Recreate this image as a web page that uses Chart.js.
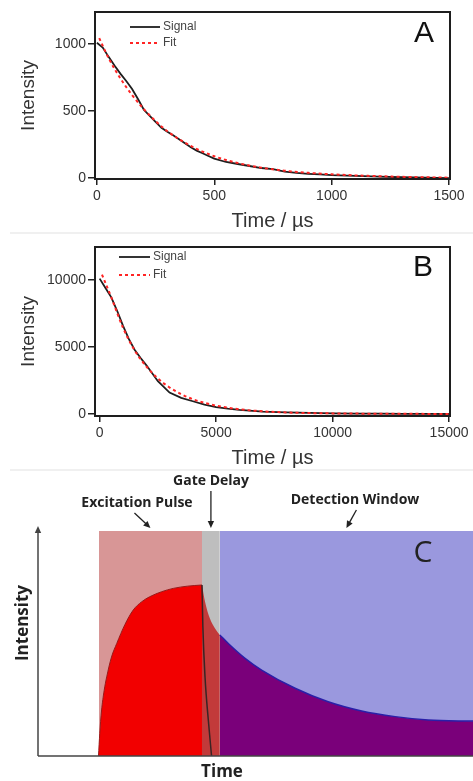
<!DOCTYPE html>
<html>
<head>
<meta charset="utf-8">
<script src="https://cdn.jsdelivr.net/npm/chart.js@4.4.1/dist/chart.umd.min.js"></script>
<style>
  html, body { margin: 0; padding: 0; background: #fff; }
  #page { position: relative; width: 473px; height: 781px; overflow: hidden; }
  canvas { position: absolute; left: 0; }
  .sep { position: absolute; left: 10px; right: 0; height: 2px; background: #f0f0f0; }
</style>
</head>
<body>
<div id="page">
  <canvas id="chartA" width="473" height="233" style="top:0"></canvas>
  <div class="sep" style="top:232px"></div>
  <canvas id="chartB" width="473" height="237" style="top:233px"></canvas>
  <div class="sep" style="top:469px"></div>
  <canvas id="chartC" width="473" height="311" style="top:470px"></canvas>
</div>
<script>
// panel A - short lifetime (µs)
const timeA   = [0, 25, 50, 75, 100, 125, 150, 175, 200, 225, 250, 275, 300, 325, 350, 375, 400, 425, 450, 475, 500, 550, 600, 650, 700, 750, 800, 850, 900, 950, 1000, 1100, 1200, 1300, 1400, 1500];
const signalA = [1010, 975, 905, 840, 780, 725, 665, 590, 510, 465, 420, 375, 345, 320, 290, 260, 230, 205, 185, 165, 145, 120, 105, 90, 75, 66, 48, 38, 32, 27, 22, 16, 10, 6, 3, 0];
const fitTimeA = [10, 50, 100, 150, 200, 250, 300, 350, 400, 450, 500, 550, 600, 700, 800, 900, 1000, 1100, 1200, 1300, 1400, 1500];
const fitA     = [1045, 895, 745, 620, 515, 425, 350, 290, 240, 198, 163, 135, 112, 78, 55, 39, 28, 20, 14, 9, 6, 3];
const ticksA = [0, 500, 1000, 1500];

// panel B - long lifetime (µs)
const timeB   = [0, 250, 500, 750, 1000, 1250, 1500, 1750, 2000, 2500, 3000, 3500, 4000, 4500, 5000, 5500, 6000, 7000, 8000, 9000, 10000, 11000, 12000, 13000, 14000, 15000];
const signalB = [10100, 9400, 8700, 7700, 6600, 5600, 4800, 4200, 3650, 2450, 1600, 1200, 950, 700, 520, 400, 300, 180, 120, 80, 50, 30, 20, 10, 5, 0];
const fitTimeB = [100, 500, 1000, 1500, 2000, 2500, 3000, 3500, 4000, 4500, 5000, 5500, 6000, 7000, 8000, 9000, 10000, 11000, 12000, 13000, 14000, 15000];
const fitB     = [10400, 8700, 6450, 4750, 3550, 2650, 1980, 1480, 1100, 830, 620, 470, 350, 200, 115, 70, 45, 30, 20, 12, 8, 5];
const ticksB = [0, 5000, 10000, 15000];

// panel C - time-gated scheme (arbitrary units)
const pulseWindow  = [14, 37.7];
const gateWindow   = [37.7, 41.8];
const detectWindow = [41.8, 100];
const riseT  = [13.9, 14.2, 14.6, 15.2, 15.8, 16.9, 18.1, 20.0, 21.9, 23.8, 25.7, 28.4, 31.1, 34.4, 37.7];
const riseI  = [0, 0.10, 0.20, 0.29, 0.352, 0.44, 0.50, 0.585, 0.649, 0.685, 0.708, 0.73, 0.745, 0.755, 0.76];
const decayT = [37.7, 38.4, 39.5, 40.7, 41.8, 43.75, 47.6, 51.4, 59.1, 66.7, 74.4, 82.1, 89.7, 100];
const decayI = [0.76, 0.686, 0.612, 0.567, 0.538, 0.50, 0.434, 0.382, 0.301, 0.241, 0.20, 0.175, 0.16, 0.155];
const quenchT = [37.7, 37.9, 38.4, 39.15, 39.9];
const quenchI = [0.76, 0.575, 0.35, 0.16, 0];

const pts = (xs, ys) => xs.map((x, i) => ({ x: x, y: ys[i] }));
const band = w => [{ x: w[0], y: 1 }, { x: w[1], y: 1 }];
const sans = 'Liberation Sans, Arial, sans-serif';
const bold = '"Open Sans", sans-serif';

const panelDecor = {
    id: 'panelDecor',
    afterDatasetsDraw(chart, args, o) {
        const { ctx, chartArea: a } = chart;
        ctx.save();
        ctx.strokeStyle = '#1e1e1e';
        ctx.lineWidth = 2;
        ctx.strokeRect(a.left, a.top, a.right - a.left, a.bottom - a.top);

        ctx.fillStyle = '#111';
        ctx.font = '30px ' + sans;
        ctx.textAlign = 'center';
        ctx.textBaseline = 'middle';
        ctx.fillText(o.letter, o.letterX, o.letterY);

        ctx.font = '12px ' + sans;
        ctx.textAlign = 'left';
        chart.data.datasets.forEach((ds, i) => {
            const y = a.top + o.legY + i * o.legGap;
            const x0 = a.left + o.legX;
            ctx.beginPath();
            ctx.setLineDash(ds.borderDash || []);
            ctx.strokeStyle = ds.borderColor;
            ctx.lineWidth = ds.borderWidth;
            ctx.moveTo(x0, y);
            ctx.lineTo(x0 + o.legW, y);
            ctx.stroke();
            ctx.setLineDash([]);
            ctx.fillStyle = '#444';
            ctx.fillText(ds.label, x0 + o.legW + 3, y);
        });
        ctx.restore();
    }
};

function decayChart(id, o) {
    return new Chart(document.getElementById(id), {
        type: 'line',
        data: {
            datasets: [
                { label: 'Signal', data: pts(o.t, o.signal), borderColor: '#1e1e1e', borderWidth: 1.8,
                  pointRadius: 0, tension: 0, order: 2 },
                { label: 'Fit', data: pts(o.fitT, o.fit), borderColor: '#ff2424', borderWidth: 2,
                  borderDash: [3, 3], pointRadius: 0, cubicInterpolationMode: 'monotone', order: 1 }
            ]
        },
        options: {
            responsive: false,
            animation: false,
            devicePixelRatio: 1,
            layout: { padding: { top: o.top, right: 23, left: 0, bottom: 0 } },
            plugins: {
                legend: { display: false },
                tooltip: { enabled: false },
                panelDecor: o.decor
            },
            scales: {
                x: {
                    type: 'linear', min: o.xMin, max: o.xMax,
                    afterFit: s => { s.height = 54; },
                    afterBuildTicks: s => { s.ticks = o.xTicks.map(v => ({ value: v })); },
                    ticks: { color: '#333', font: { family: sans, size: 14 }, padding: 3,
                             maxRotation: 0, autoSkip: false, callback: v => String(v) },
                    grid: { drawOnChartArea: false, drawTicks: true, tickLength: 6, color: '#222', lineWidth: 1.5 },
                    border: { display: false },
                    title: { display: true, text: 'Time / µs', color: '#333',
                             font: { family: sans, size: 20 }, padding: { top: 0, bottom: 0 } }
                },
                y: {
                    min: o.yMin, max: o.yMax,
                    afterFit: s => { s.width = 95; },
                    afterBuildTicks: s => { s.ticks = o.yTicks.map(v => ({ value: v })); },
                    ticks: { color: '#333', font: { family: sans, size: 14 }, padding: 2,
                             callback: v => String(v) },
                    grid: { drawOnChartArea: false, drawTicks: true, tickLength: 7, color: '#222', lineWidth: 1.5 },
                    border: { display: false },
                    title: { display: true, text: 'Intensity', color: '#333',
                             font: { family: sans, size: 19 }, padding: { top: 17, bottom: 0 } }
                }
            }
        },
        plugins: [panelDecor]
    });
}

decayChart('chartA', {
    t: timeA, signal: signalA, fitT: fitTimeA, fit: fitA,
    xMin: -8, xMax: 1504, yMin: -7, yMax: 1240,
    xTicks: ticksA, yTicks: [0, 500, 1000], top: 12,
    decor: { letter: 'A', letterX: 424, letterY: 34, legX: 35, legW: 30, legY: 15, legGap: 16 }
});

decayChart('chartB', {
    t: timeB, signal: signalB, fitT: fitTimeB, fit: fitB,
    xMin: -200, xMax: 15040, yMin: -150, yMax: 12460,
    xTicks: ticksB, yTicks: [0, 5000, 10000], top: 14,
    decor: { letter: 'B', letterX: 423, letterY: 35, legX: 24, legW: 31, legY: 10, legGap: 18 }
});

// panel C overlay: axes with arrow, labels, annotations
function arrow(ctx, x0, y0, x1, y1) {
    const ang = Math.atan2(y1 - y0, x1 - x0);
    ctx.beginPath();
    ctx.moveTo(x0, y0);
    ctx.lineTo(x1 - 5 * Math.cos(ang), y1 - 5 * Math.sin(ang));
    ctx.stroke();
    ctx.beginPath();
    ctx.moveTo(x1, y1);
    ctx.lineTo(x1 - 7 * Math.cos(ang) + 3.2 * Math.sin(ang), y1 - 7 * Math.sin(ang) - 3.2 * Math.cos(ang));
    ctx.lineTo(x1 - 7 * Math.cos(ang) - 3.2 * Math.sin(ang), y1 - 7 * Math.sin(ang) + 3.2 * Math.cos(ang));
    ctx.closePath();
    ctx.fill();
}

const schemeDecor = {
    id: 'schemeDecor',
    afterDatasetsDraw(chart) {
        const { ctx, chartArea: a, scales: { x } } = chart;
        ctx.save();
        ctx.strokeStyle = '#444';
        ctx.fillStyle = '#444';
        ctx.lineWidth = 1.5;
        // axes
        ctx.beginPath();
        ctx.moveTo(a.left, a.bottom);
        ctx.lineTo(a.right, a.bottom);
        ctx.stroke();
        arrow(ctx, a.left, a.bottom, a.left, a.top - 5);

        ctx.fillStyle = '#222';
        ctx.font = 'bold 17px ' + bold;
        ctx.textAlign = 'center';
        ctx.textBaseline = 'middle';
        ctx.fillText('Time', 222, 302);
        ctx.save();
        ctx.translate(23, 153);
        ctx.rotate(-Math.PI / 2);
        ctx.fillText('Intensity', 0, 0);
        ctx.restore();

        ctx.font = 'bold 14px ' + bold;
        ctx.fillText('Gate Delay', 211, 11);
        ctx.fillText('Excitation Pulse', 137, 33);
        ctx.fillText('Detection Window', 355, 30);

        ctx.strokeStyle = '#222';
        ctx.fillStyle = '#222';
        ctx.lineWidth = 1.3;
        const midPulse = x.getPixelForValue((pulseWindow[0] + pulseWindow[1]) / 2);
        const midGate = x.getPixelForValue((gateWindow[0] + gateWindow[1]) / 2);
        const midDetect = x.getPixelForValue((detectWindow[0] + detectWindow[1]) / 2);
        arrow(ctx, midPulse - 16, 43, midPulse, a.top - 3);
        arrow(ctx, midGate, 21, midGate, a.top - 3);
        arrow(ctx, midDetect + 10, 40, midDetect, a.top - 3);

        ctx.fillStyle = '#222';
        ctx.font = '30px ' + bold;
        ctx.fillText('C', 423, 83);
        ctx.restore();
    }
};

new Chart(document.getElementById('chartC'), {
    type: 'line',
    data: {
        datasets: [
            { data: pts(quenchT, quenchI), borderColor: '#3a2424', borderWidth: 1.5, fill: false,
              cubicInterpolationMode: 'monotone', order: 1 },
            { data: pts(decayT, decayI).filter(p => p.x >= detectWindow[0]), backgroundColor: 'rgb(122,0,122)',
              borderColor: '#2a1fa8', borderWidth: 1.5, fill: 'origin', cubicInterpolationMode: 'monotone', order: 2 },
            { data: pts(decayT, decayI).filter(p => p.x <= gateWindow[1]), backgroundColor: 'rgb(194,58,58)',
              borderColor: 'transparent', borderWidth: 0, fill: 'origin', cubicInterpolationMode: 'monotone', order: 2 },
            { data: pts(riseT, riseI), backgroundColor: 'rgb(242,0,0)', borderColor: '#9a1a1a', borderWidth: 1,
              fill: 'origin', cubicInterpolationMode: 'monotone', order: 2 },
            { data: band(pulseWindow), backgroundColor: 'rgb(216,150,150)', borderColor: 'transparent',
              borderWidth: 0, fill: 'origin', order: 3 },
            { data: band(gateWindow), backgroundColor: 'rgb(190,190,190)', borderColor: 'transparent',
              borderWidth: 0, fill: 'origin', order: 3 },
            { data: band(detectWindow), backgroundColor: 'rgb(154,152,222)', borderColor: 'transparent',
              borderWidth: 0, fill: 'origin', order: 3 }
        ]
    },
    options: {
        responsive: false,
        animation: false,
        devicePixelRatio: 1,
        elements: { point: { radius: 0 } },
        layout: { padding: { top: 61, right: 0, bottom: 25, left: 38 } },
        plugins: { legend: { display: false }, tooltip: { enabled: false } },
        scales: {
            x: { type: 'linear', min: 0, max: 100, display: false },
            y: { min: 0, max: 1, display: false }
        }
    },
    plugins: [schemeDecor]
});
</script>
</body>
</html>
